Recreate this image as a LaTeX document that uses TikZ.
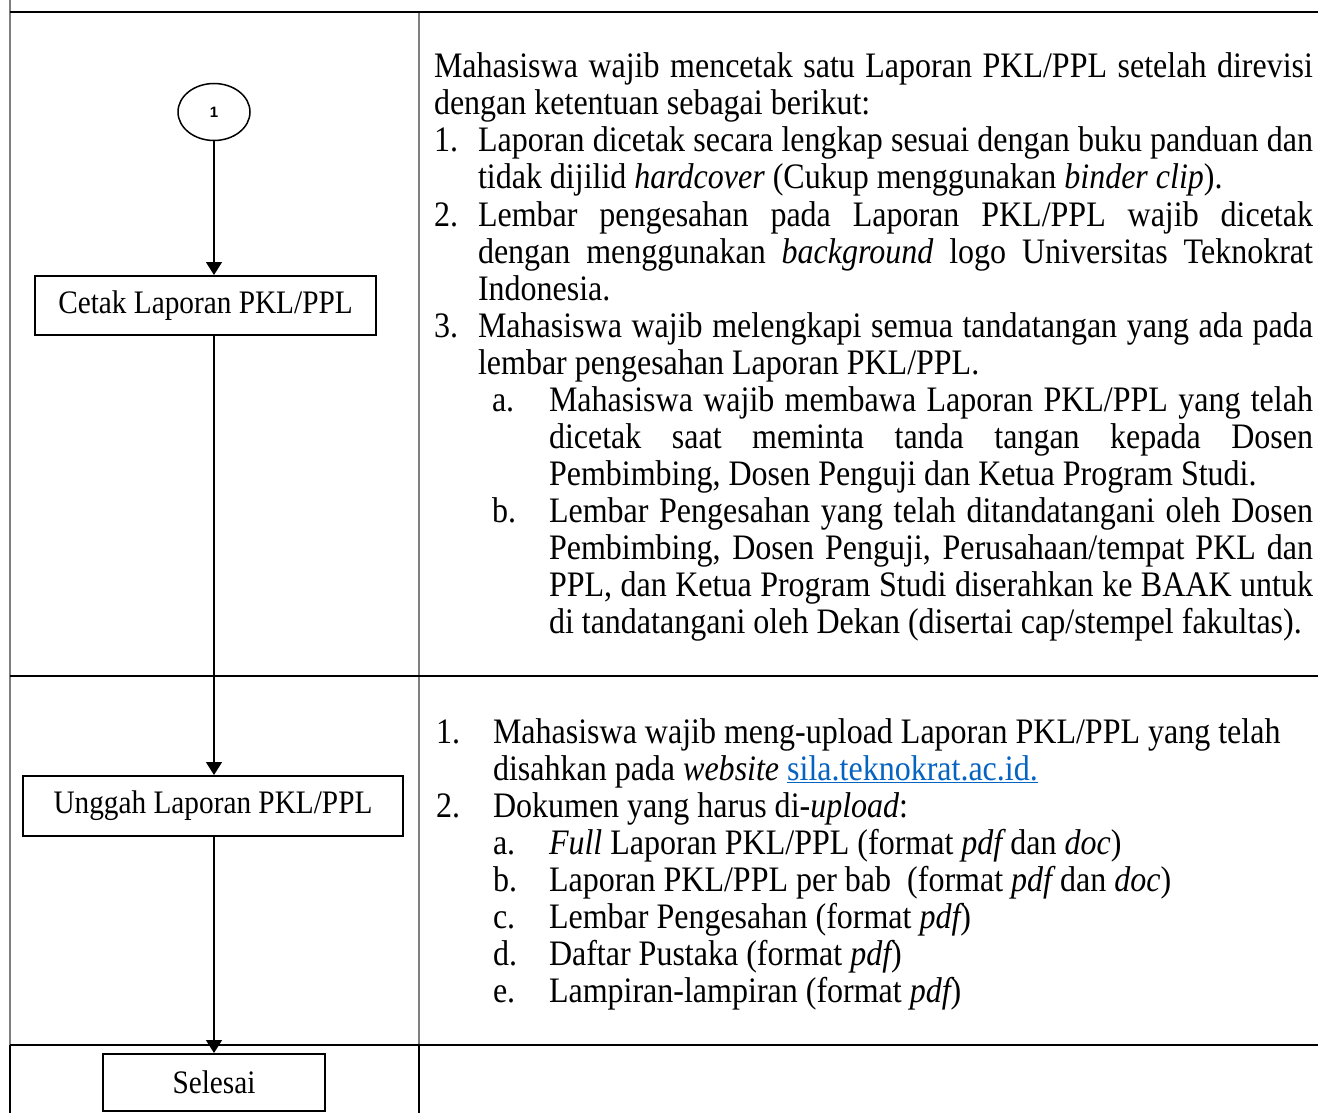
\documentclass[tikz,border=0pt]{standalone}
\usepackage{fontspec}
\setmainfont{Liberation Serif}[FakeStretch=0.893]
\newfontfamily\numfont{Liberation Sans}
\usetikzlibrary{shapes.geometric,arrows.meta}
\definecolor{linkblue}{HTML}{0563C1}
\definecolor{gridgray}{HTML}{7F7F7F}
\newcommand{\lk}[1]{\textcolor{linkblue}{\underline{#1}}}
\newcommand{\jl}[2]{\makebox[#1pt][s]{#2}}
\newcommand{\itx}[1]{{\itshape #1}}
\begin{document}
\begin{tikzpicture}[x=1pt,y=-1pt,
  ln/.style={anchor=base west, inner sep=0pt, outer sep=0pt, font=\fontsize{35.84}{40}\selectfont},
  procbox/.style={draw, line width=2pt, rectangle, inner sep=0pt, font=\fontsize{32.8}{36}\selectfont},
  connector/.style={draw, ellipse, line width=1.5pt, inner sep=0pt, minimum width=72pt, minimum height=57pt, font=\numfont\bfseries\fontsize{15}{17}\selectfont},
  arr/.style={-{Triangle[width=16pt,length=13pt]}, line width=1.5pt},
  grayline/.style={draw=gridgray, line width=1.3pt},
  blackline/.style={draw=black, line width=2.6pt},
  blackvline/.style={draw=black, line width=2pt}]
\useasboundingbox (0,0) rectangle (1318,1113);
\fill[white] (0,0) rectangle (1318,1113);

% table grid
\draw[grayline] (10,0) -- (10,1045);
\draw[grayline] (419,12) -- (419,1045);
\draw[blackvline] (10,1045) -- (10,1113);
\draw[blackvline] (419,1045) -- (419,1113);
\draw[blackline] (10,12) -- (1318,12);
\draw[blackline] (10,676) -- (1318,676);
\draw[blackline] (10,1045) -- (1318,1045);

% flow
\node[connector] (c1) at (214,112) {1};
\node[procbox, minimum width=341pt, minimum height=59pt] (cetak) at (205.5,305.5) {Cetak Laporan PKL/PPL};
\node[procbox, minimum width=380pt, minimum height=60pt] (unggah) at (213,806) {Unggah Laporan PKL/PPL};
\node[procbox, minimum width=222pt, minimum height=57pt] (selesai) at (214,1082.5) {Selesai};

\draw[arr] (c1.south) -- (c1.south |- cetak.north);
\draw[arr] (c1.south |- cetak.south) -- (c1.south |- unggah.north);
\draw[arr] (unggah.south -| selesai.north) -- (selesai.north);

% row 1 text
\node[ln] (a01) at (434,78) {\jl{879}{Mahasiswa wajib mencetak satu Laporan PKL/PPL setelah direvisi}};
\node[ln] (a02) at (434,115) {dengan ketentuan sebagai berikut:};
\node[ln] (n1) at (434,152) {1.};
\node[ln] (a03) at (478,152) {\jl{835}{Laporan dicetak secara lengkap sesuai dengan buku panduan dan}};
\node[ln] (a04) at (478,189) {tidak dijilid \itx{hardcover} (Cukup menggunakan \itx{binder clip}).};
\node[ln] (n2) at (434,226) {2.};
\node[ln] (a05) at (478,226) {\jl{835}{Lembar pengesahan pada Laporan PKL/PPL wajib dicetak}};
\node[ln] (a06) at (478,263) {\jl{835}{dengan menggunakan \itx{background} logo Universitas Teknokrat}};
\node[ln] (a07) at (478,300) {Indonesia.};
\node[ln] (n3) at (434,337) {3.};
\node[ln] (a08) at (478,337) {\jl{835}{Mahasiswa wajib melengkapi semua tandatangan yang ada pada}};
\node[ln] (a09) at (478,374) {lembar pengesahan Laporan PKL/PPL.};
\node[ln] (na) at (492,411) {a.};
\node[ln] (a10) at (549,411) {\jl{764}{Mahasiswa wajib membawa Laporan PKL/PPL yang telah}};
\node[ln] (a11) at (549,448) {\jl{764}{dicetak saat meminta tanda tangan kepada Dosen}};
\node[ln] (a12) at (549,485) {Pembimbing, Dosen Penguji dan Ketua Program Studi.};
\node[ln] (nb) at (492,522) {b.};
\node[ln] (a13) at (549,522) {\jl{764}{Lembar Pengesahan yang telah ditandatangani oleh Dosen}};
\node[ln] (a14) at (549,559) {\jl{764}{Pembimbing, Dosen Penguji, Perusahaan/tempat PKL dan}};
\node[ln] (a15) at (549,596) {\jl{764}{PPL, dan Ketua Program Studi diserahkan ke BAAK untuk}};
\node[ln] (a16) at (549,633) {di tandatangani oleh Dekan (disertai cap/stempel fakultas).};

% row 2 text
\node[ln] (m1) at (436,743) {1.};
\node[ln] (b01) at (493,743) {Mahasiswa wajib meng-upload Laporan PKL/PPL yang telah};
\node[ln] (b02) at (493,780) {disahkan pada \itx{website} \lk{sila.teknokrat.ac.id.}};
\node[ln] (m2) at (436,817) {2.};
\node[ln] (b03) at (493,817) {Dokumen yang harus di-\itx{upload}:};
\node[ln] (ma) at (493,854) {a.};
\node[ln] (b04) at (549,854) {\itx{Full} Laporan PKL/PPL (format \itx{pdf} dan \itx{doc})};
\node[ln] (mb) at (493,891) {b.};
\node[ln] (b05) at (549,891) {Laporan PKL/PPL per bab\ \ (format \itx{pdf} dan \itx{doc})};
\node[ln] (mc) at (493,928) {c.};
\node[ln] (b06) at (549,928) {Lembar Pengesahan (format \itx{pdf})};
\node[ln] (md) at (493,965) {d.};
\node[ln] (b07) at (549,965) {Daftar Pustaka (format \itx{pdf})};
\node[ln] (me) at (493,1002) {e.};
\node[ln] (b08) at (549,1002) {Lampiran-lampiran (format \itx{pdf})};
\end{tikzpicture}
\end{document}
